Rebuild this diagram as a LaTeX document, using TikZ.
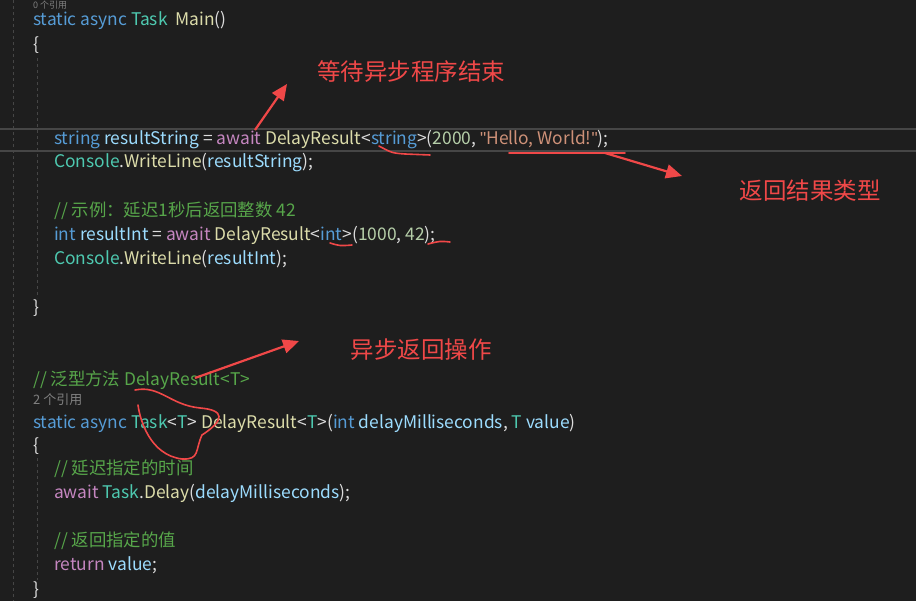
\documentclass[tikz,border=0pt]{standalone}
\usepackage{fontspec}
\setmainfont{Noto Sans CJK SC}
\newfontfamily\quotefont{Liberation Sans}
\usetikzlibrary{arrows.meta}
\definecolor{bg}{HTML}{1E1E1E}
\definecolor{kw}{HTML}{569CD6}
\definecolor{ty}{HTML}{4EC9B0}
\definecolor{me}{HTML}{DCDCAA}
\definecolor{va}{HTML}{9CDCFE}
\definecolor{aw}{HTML}{C586C0}
\definecolor{st}{HTML}{CE9178}
\definecolor{nu}{HTML}{B5CEA8}
\definecolor{cm}{HTML}{57A64A}
\definecolor{df}{HTML}{DCDCDC}
\definecolor{ann}{HTML}{F04848}
\definecolor{gl}{HTML}{464646}
\newcommand{\K}[1]{\textcolor{kw}{#1}}
\newcommand{\Ty}[1]{\textcolor{ty}{#1}}
\newcommand{\Me}[1]{\textcolor{me}{#1}}
\newcommand{\Va}[1]{\textcolor{va}{#1}}
\newcommand{\Aw}[1]{\textcolor{aw}{#1}}
\newcommand{\St}[1]{\textcolor{st}{#1}}
\newcommand{\Nu}[1]{\textcolor{nu}{#1}}
\newcommand{\dq}{{\quotefont\symbol{34}}}
\begin{document}
\begin{tikzpicture}[x=1pt,y=-1pt,
  code/.style={anchor=west,inner sep=0pt,text=df,font=\fontsize{17.4}{19}\selectfont},
  cmt/.style={code,text=cm},
  lbl/.style={text=ann,inner sep=0pt,font=\fontsize{23.5}{26}\selectfont},
  arr/.style={ann,line width=2.2pt,-{Triangle[length=16pt,width=14pt]}},
  squig/.style={ann,line width=1.6pt,line cap=round}]
\fill[bg] (0,0) rectangle (916,601);
\useasboundingbox (0,0) rectangle (916,601);
% guides
\draw[gl,dashed] (13,0) -- (13,601);
\draw[gl,dashed] (37,58) -- (37,298);
\draw[gl,dashed] (37,458) -- (37,580);
\draw[gl,line width=1.2pt] (0,129) -- (916,129);
\draw[gl,line width=1.2pt] (0,151) -- (916,151);
% code
\node[code,text=gray,font=\fontsize{9}{10}\selectfont] (r0) at (33,5) {0 个引用};
\node[code] (l1) at (33,20) {\K{static async} \Ty{Task}\ \ \Me{Main}()};
\node[code] (l2) at (33,45) {\{};
\node[code] (l3) at (54,140) {\K{string} \Va{resultString} = \Aw{await} \Me{DelayResult}<\K{string}>(\Nu{2000}, \St{\dq Hello, World!\dq});};
\node[code] (l4) at (54,163) {\Ty{Console}.\Me{WriteLine}(\Va{resultString});};
\node[cmt] (l5) at (54,211) {// 示例：延迟1秒后返回整数 42};
\node[code] (l6) at (54,235) {\K{int} \Va{resultInt} = \Aw{await} \Me{DelayResult}<\K{int}>(\Nu{1000}, \Nu{42});};
\node[code] (l7) at (54,259) {\Ty{Console}.\Me{WriteLine}(\Va{resultInt});};
\node[code] (l8) at (33,308) {\}};
\node[cmt] (l9) at (33,380) {// 泛型方法 DelayResult<T>};
\node[code,text=gray,font=\fontsize{13}{14}\selectfont] (l10) at (33,400) {2 个引用};
\node[code] (l11) at (33,423) {\K{static async} \Ty{Task}<\Ty{T}> \Me{DelayResult}<\Ty{T}>(\K{int} \Va{delayMilliseconds}, \Ty{T} \Va{value})};
\node[code] (l12) at (33,446) {\{};
\node[cmt] (l13) at (54,469) {// 延迟指定的时间};
\node[code] (l14) at (54,493) {\Aw{await} \Ty{Task}.\Me{Delay}(\Va{delayMilliseconds});};
\node[cmt] (l15) at (54,541) {// 返回指定的值};
\node[code] (l16) at (54,565) {\Aw{return} \Va{value};};
\node[code] (l17) at (33,590) {\}};
% annotations
\node[lbl] (a1) at (411,72) {等待异步程序结束};
\node[lbl] (a2) at (810,191) {返回结果类型};
\node[lbl] (a3) at (421,350) {异步返回操作};
\coordinate (s1) at (255,130); \coordinate (e1) at (287,84);
\coordinate (s2) at (605,153); \coordinate (e2) at (682,176);
\coordinate (s3) at (195,378); \coordinate (e3) at (299,341);
\draw[arr] (s1) -- (e1);
\draw[arr] (s2) -- (e2);
\draw[arr] (s3) -- (e3);
\draw[squig] (379,146) .. controls (392,153) .. (405,154) -- (430,155);
\draw[squig] (509,153) -- (625,153);
\draw[squig] (330,243) .. controls (340,246) .. (352,245);
\draw[squig] (428,244) .. controls (440,241) .. (450,242);
\draw[squig] (135,390) .. controls (160,385) and (170,405) .. (200,408)
  .. controls (225,410) and (225,420) .. (202,435)
  .. controls (195,450) and (200,460) .. (182,459)
  .. controls (150,455) and (140,420) .. (138,405);
\end{tikzpicture}
\end{document}
